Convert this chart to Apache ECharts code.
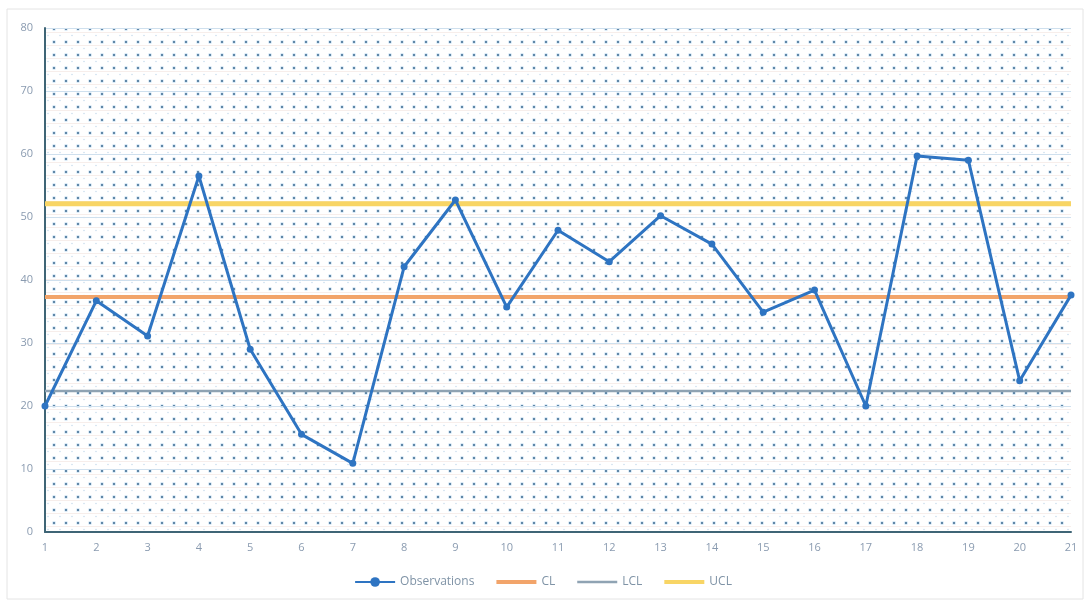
<!DOCTYPE html>
<html>
<head>
<meta charset="utf-8">
<script src="https://cdn.jsdelivr.net/npm/echarts@6/dist/echarts.min.js"></script>
<style>
html,body{margin:0;padding:0;background:#fff;}
#main{width:1086px;height:603px;}
</style>
</head>
<body>
<div id="main"></div>
<script>
const categories = ['1','2','3','4','5','6','7','8','9','10','11','12','13','14','15','16','17','18','19','20','21'];
const observations = [20.0, 36.7, 31.1, 56.5, 29.0, 15.5, 10.9, 42.1, 52.7, 35.7, 47.9, 42.9, 50.2, 45.7, 34.9, 38.4, 20.0, 59.7, 59.0, 24.0, 37.6];
const clValue = 37.3;
const lclValue = 22.4;
const uclValue = 52.1;
const clData = categories.map(() => clValue);
const lclData = categories.map(() => lclValue);
const uclData = categories.map(() => uclValue);

// dotted background pattern
const pc = document.createElement('canvas');
pc.width = 12; pc.height = 13;
const g = pc.getContext('2d');
g.fillStyle = '#ffffff';
g.fillRect(0,0,12,13);
g.fillStyle = 'rgba(230,200,190,0.3)';
g.fillRect(0,6,12,1);
g.fillStyle = 'rgba(160,200,230,0.45)';
g.beginPath(); g.arc(6,3,2,0,Math.PI*2); g.fill();
g.fillStyle = 'rgba(40,90,130,0.9)';
g.beginPath(); g.arc(6,3,1,0,Math.PI*2); g.fill();
g.fillStyle = 'rgba(150,190,220,0.5)';
g.beginPath(); g.arc(0,9.5,0.8,0,Math.PI*2); g.fill();
g.beginPath(); g.arc(12,9.5,0.8,0,Math.PI*2); g.fill();

const barIcon = 'path://M0,0 L40,0 L40,4 L0,4 Z';

const chart = echarts.init(document.getElementById('main'));
chart.setOption({
  backgroundColor: '#ffffff',
  animation: false,
  graphic: [{
    type: 'rect',
    shape: {x: 7, y: 9, width: 1076, height: 590},
    style: {fill: 'none', stroke: '#e4e4e4', lineWidth: 1},
    silent: true, z: -10
  }],
  grid: {
    left: 45, right: 15, top: 28, bottom: 71,
    show: true,
    backgroundColor: {image: pc, repeat: 'repeat'},
    borderWidth: 0
  },
  legend: {
    bottom: 10,
    left: 'center',
    itemWidth: 40,
    itemHeight: 12,
    itemGap: 22,
    textStyle: {color: '#7f93a6', fontSize: 12, fontFamily: 'Open Sans'},
    data: [
      {name: 'Observations'},
      {name: 'CL', icon: barIcon},
      {name: 'LCL', icon: 'path://M0,0 L40,0 L40,2.5 L0,2.5 Z'},
      {name: 'UCL', icon: barIcon}
    ]
  },
  xAxis: {
    type: 'category',
    data: categories,
    boundaryGap: false,
    axisLine: {lineStyle: {color: '#3f6576', width: 2}},
    axisTick: {show: false},
    axisLabel: {color: '#8a9bb0', fontSize: 11, margin: 10, fontFamily: 'Open Sans'},
    splitLine: {show: false}
  },
  yAxis: {
    type: 'value',
    min: 0, max: 80, interval: 10,
    axisLine: {show: true, lineStyle: {color: '#3f6576', width: 2}},
    axisTick: {show: false},
    axisLabel: {color: '#8a9bb0', fontSize: 11, margin: 12, fontFamily: 'Open Sans'},
    splitLine: {show: true, lineStyle: {color: '#cfe0ee', width: 1}}
  },
  series: [
    {
      name: 'LCL', type: 'line', data: lclData, showSymbol: false, symbol: 'none',
      lineStyle: {color: '#8fa3b3', width: 2.5}, itemStyle: {color: '#8fa3b3'}, z: 2
    },
    {
      name: 'CL', type: 'line', data: clData, showSymbol: false, symbol: 'none',
      lineStyle: {color: '#f2a46a', width: 4}, itemStyle: {color: '#f2a46a'}, z: 2
    },
    {
      name: 'UCL', type: 'line', data: uclData, showSymbol: false, symbol: 'none',
      lineStyle: {color: '#f8d565', width: 5}, itemStyle: {color: '#f8d565'}, z: 2
    },
    {
      name: 'Observations', type: 'line', data: observations,
      symbol: 'circle', symbolSize: 7, showSymbol: true,
      lineStyle: {color: '#2e74c2', width: 3}, itemStyle: {color: '#2e74c2'}, z: 5
    }
  ]
});
</script>
</body>
</html>
